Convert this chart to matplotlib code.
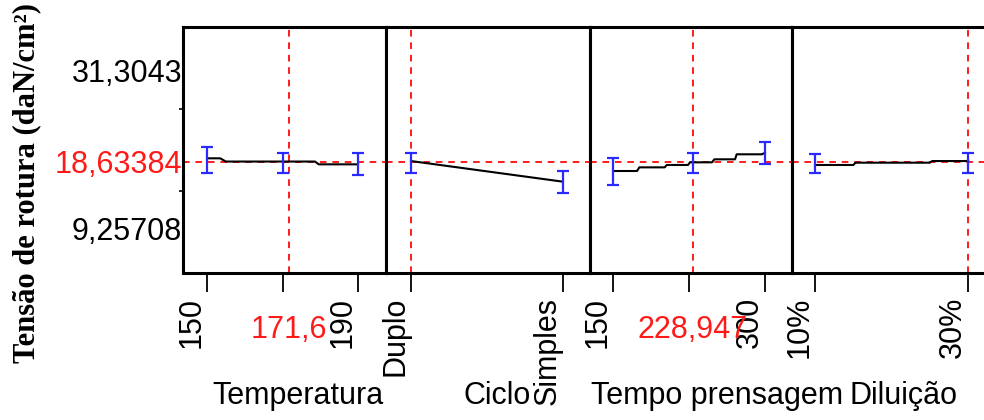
#!/usr/bin/env python3
"""Prediction profiler: Tensão de rotura vs. four process factors."""
import matplotlib
matplotlib.use("Agg")
import matplotlib.pyplot as plt
import matplotlib.transforms as mtransforms
import numpy as np

# ── values ──────────────────────────────────────────────────────────────────
Y_CURRENT = 18.63384
Y_LABELS = [9.25708, 18.63384, 31.3043]
Y_LABEL_TEXT = ["9,25708", "18,63384", "31,3043"]
Y_LIM = (3.08, 37.40)

# Temperatura
temp_x = [150, 153.5, 155, 178.6, 179.6, 190]
temp_y = [19.08, 19.08, 18.63, 18.63, 18.24, 18.24]
temp_pts = [150, 170, 190]
temp_lo = [17.07, 17.03, 16.75]
temp_hi = [20.70, 19.82, 19.82]
temp_ticks = [150, 170, 190]
temp_ticklabels = ["150", "", "190"]
temp_current = 171.6
temp_current_text = "171,6"

# Ciclo (categorical)
ciclo_x = [0, 1]
ciclo_y = [18.70, 15.82]
ciclo_pts = [0, 1]
ciclo_lo = [16.99, 14.20]
ciclo_hi = [19.86, 17.31]
ciclo_ticks = [0, 1]
ciclo_ticklabels = ["Duplo", "Simples"]
ciclo_current = 0
ciclo_current_text = ""

# Tempo prensagem
tempo_x = [150, 173.7, 176, 201, 203, 224, 226, 247.7, 250, 270.4, 272, 297, 300]
tempo_y = [17.31, 17.31, 17.82, 17.82, 18.15, 18.15, 18.52, 18.52, 18.94,
           18.94, 19.64, 19.64, 19.86]
tempo_pts = [150, 228.947, 300]
tempo_lo = [15.36, 16.99, 18.24]
tempo_hi = [19.08, 19.86, 21.40]
tempo_ticks = [150, 225, 300]
tempo_ticklabels = ["150", "", "300"]
tempo_current = 228.947
tempo_current_text = "228,947"

# Diluição
dil_x = [10, 15, 15.3, 25, 25.3, 30]
dil_y = [18.15, 18.15, 18.47, 18.47, 18.70, 18.70]
dil_pts = [10, 30]
dil_lo = [16.99, 16.99]
dil_hi = [19.64, 19.86]
dil_ticks = [10, 30]
dil_ticklabels = ["10%", "30%"]
dil_current = 30
dil_current_text = ""

# ── layout (pixels of a 984x420 canvas) ─────────────────────────────────────
W, H = 984, 420
AX_TOP, AX_BOT = 27, 273
PANELS = [
    # (left px, right px, xlim, title, title x in axes fraction)
    (183, 386, (143.65, 197.4), "Temperatura", 0.566),
    (386, 590, (-0.164, 1.178), "Ciclo", 0.545),
    (590, 792, (127.3, 326.6), "Tempo prensagem", 0.63),
    (792, 995, (7.0, 33.5), "Diluição", 0.55),
]
SERIES = [
    (temp_x, temp_y, temp_pts, temp_lo, temp_hi, temp_ticks, temp_ticklabels,
     temp_current, temp_current_text),
    (ciclo_x, ciclo_y, ciclo_pts, ciclo_lo, ciclo_hi, ciclo_ticks,
     ciclo_ticklabels, ciclo_current, ciclo_current_text),
    (tempo_x, tempo_y, tempo_pts, tempo_lo, tempo_hi, tempo_ticks,
     tempo_ticklabels, tempo_current, tempo_current_text),
    (dil_x, dil_y, dil_pts, dil_lo, dil_hi, dil_ticks, dil_ticklabels,
     dil_current, dil_current_text),
]

SANS = ["Liberation Sans", "DejaVu Sans"]
FS = 22
RED = "#ff1a1a"
BLUE = "#2a2aff"
DASH = (0, (3.4, 3.0))

plt.rcParams["font.family"] = SANS

fig = plt.figure(figsize=(W / 100, H / 100), dpi=100)

axes = []
for (lpx, rpx, xlim, title, tx), s in zip(PANELS, SERIES):
    x, y, pts, lo, hi, ticks, ticklabels, cur, cur_text = s
    ax = fig.add_axes([lpx / W, 1 - AX_BOT / H, (rpx - lpx) / W,
                       (AX_BOT - AX_TOP) / H])
    axes.append(ax)

    ax.plot(x, y, color="black", lw=1.5, zorder=3)
    lo, hi = np.asarray(lo), np.asarray(hi)
    mid = (lo + hi) / 2
    ax.errorbar(pts, mid, yerr=(mid - lo, hi - mid), fmt="none",
                ecolor=BLUE, elinewidth=1.6, capsize=4, capthick=1.6, zorder=4)

    ax.axvline(cur, color=RED, lw=1.4, ls=DASH, zorder=2)
    ax.axhline(Y_CURRENT, color=RED, lw=1.4, ls=DASH, zorder=2)

    ax.set_xlim(*xlim)
    ax.set_ylim(*Y_LIM)

    ax.set_xticks(ticks)
    ax.set_xticklabels(ticklabels, rotation=90, ha="right", va="top",
                       fontsize=FS)
    ax.tick_params(axis="x", length=14, width=1.3, pad=3, color="black")

    if cur_text:
        trans = mtransforms.blended_transform_factory(ax.transData,
                                                      ax.transAxes)
        ax.text(cur, -0.232, cur_text, transform=trans, ha="center",
                va="center", color=RED, fontsize=FS)

    ax.text(tx, -0.50, title, transform=ax.transAxes, ha="center",
            va="center", fontsize=FS)

    for sp in ax.spines.values():
        sp.set_linewidth(2.2)

    if ax is axes[0]:
        y0, y1 = Y_LIM
        ax.set_yticks([y0 + (y1 - y0) / 3, y0 + 2 * (y1 - y0) / 3])
        ax.set_yticklabels([])
        ax.tick_params(axis="y", length=3, width=1.2)
        ax.set_yticks(Y_LABELS, minor=True)
        ax.set_yticklabels(Y_LABEL_TEXT, minor=True, fontsize=FS)
        ax.tick_params(axis="y", which="minor", length=0, pad=0.5)
        ax.get_yticklabels(minor=True)[1].set_color(RED)
    else:
        ax.set_yticks([])

fig.text(27 / W, 1 - 183 / H, "Tensão de rotura (daN/cm²)", rotation=90,
         ha="center", va="center", fontsize=22, fontweight="bold",
         family=["Liberation Serif", "DejaVu Serif"])

fig.savefig("out.png", dpi=100)
